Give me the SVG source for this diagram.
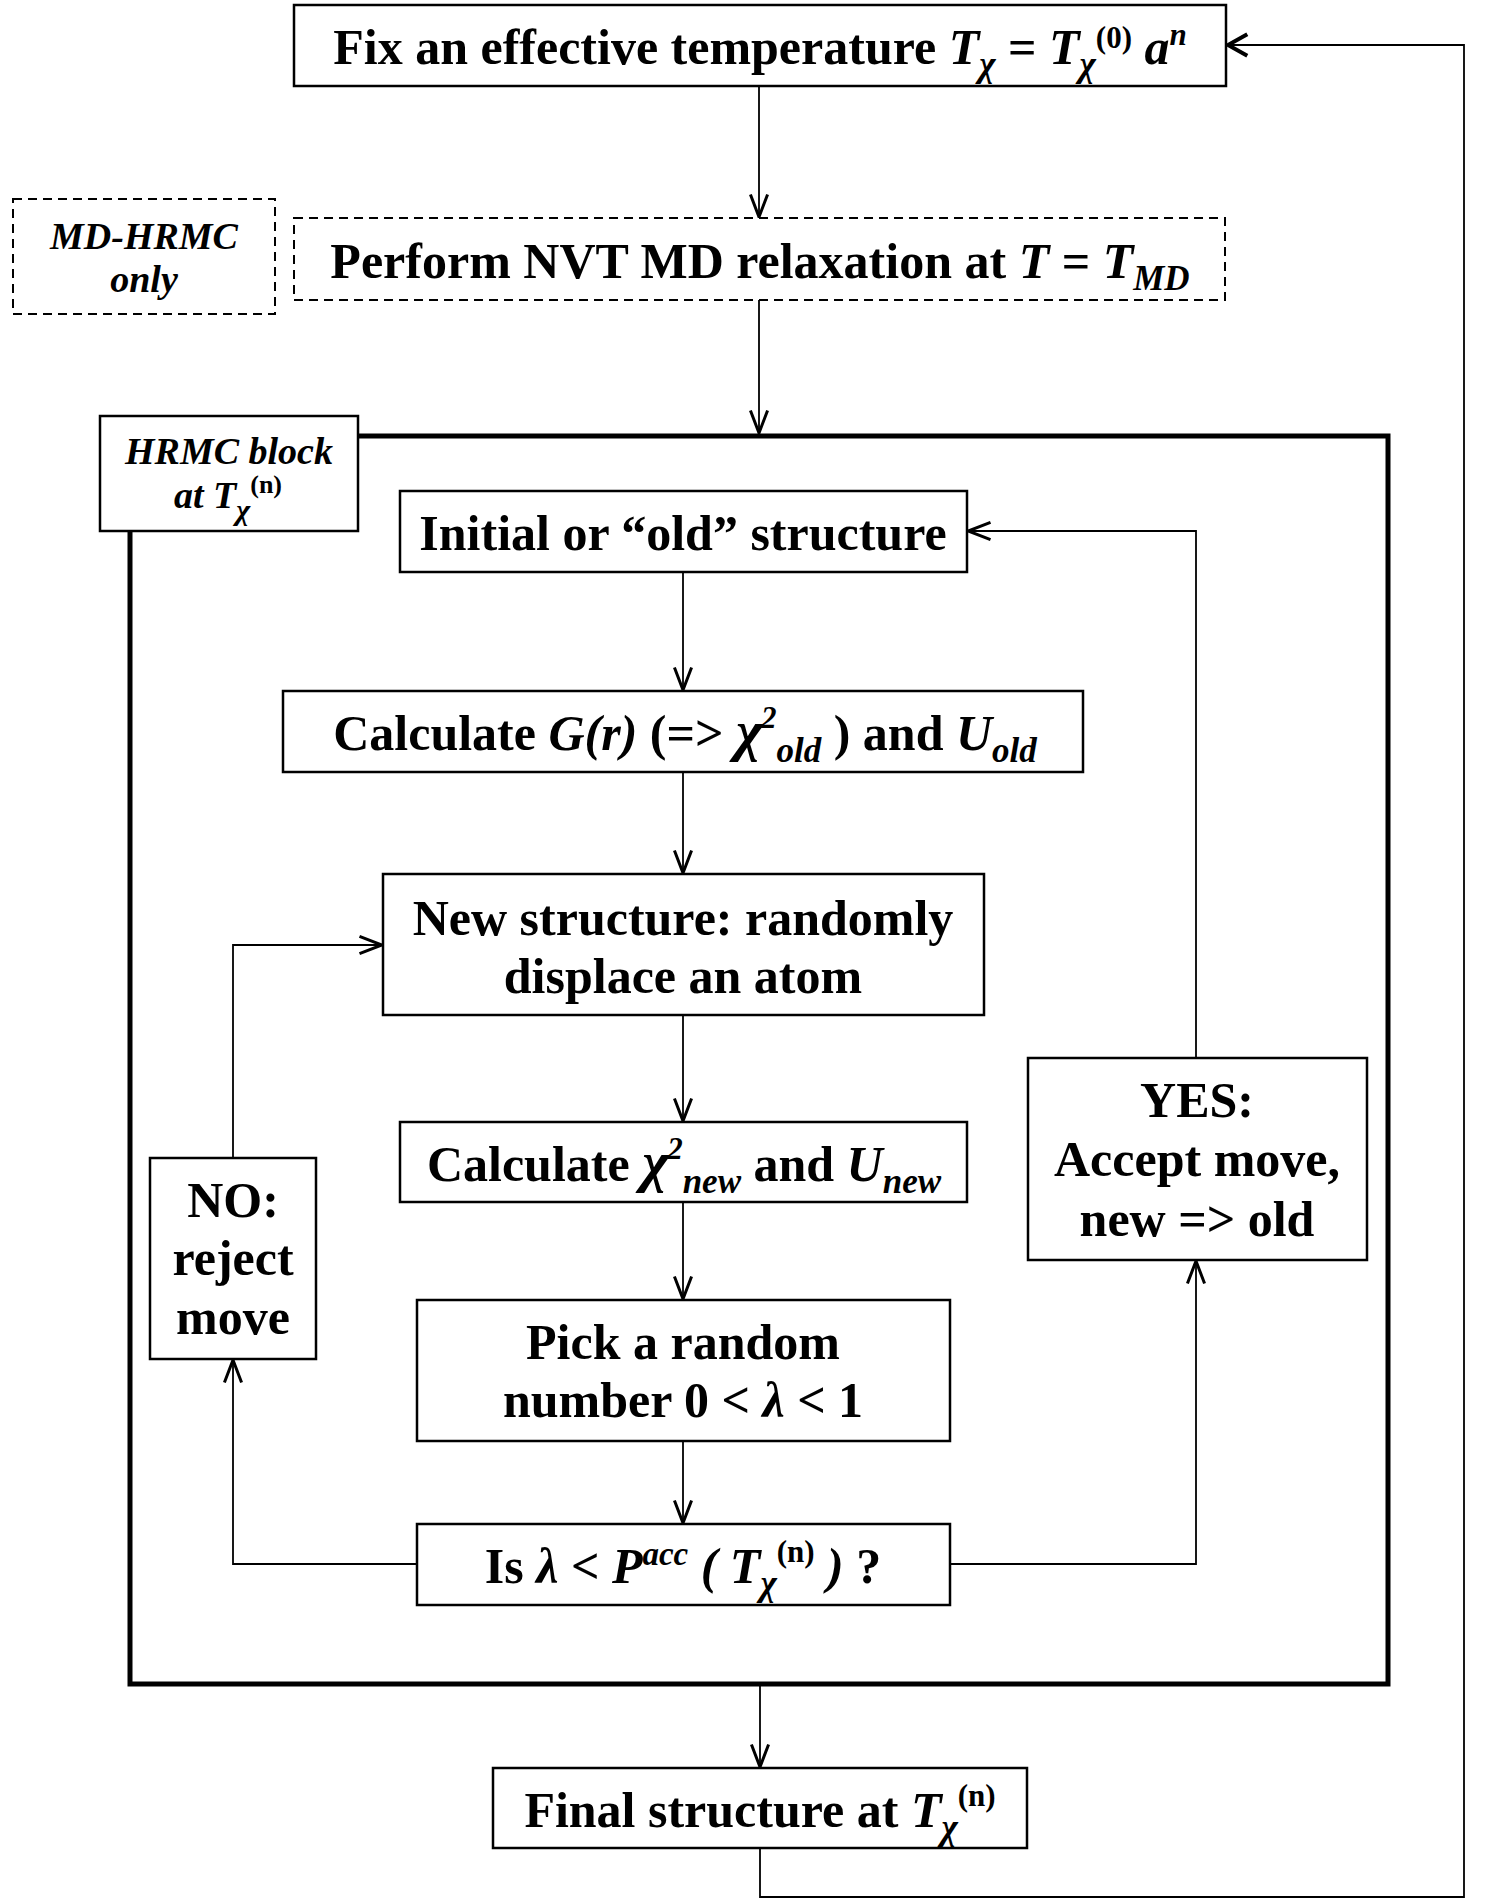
<svg xmlns="http://www.w3.org/2000/svg" width="1500" height="1900" viewBox="0 0 1500 1900">
<style>
.t{font-family:"Liberation Serif","Times New Roman",serif;font-weight:bold;font-size:50px;fill:#000}
.s{font-family:"Liberation Serif","Times New Roman",serif;font-weight:bold;font-style:italic;font-size:38px;fill:#000}
.i{font-style:italic}
.sub{font-size:35px;font-style:italic}
.sup{font-size:31px}
.chi{font-size:58px;font-style:italic}
.box{fill:#fff;stroke:#000;stroke-width:2.5}
.dash{fill:#fff;stroke:#000;stroke-width:2;stroke-dasharray:9 6}
.blk{fill:none;stroke:#000;stroke-width:5}
.c{fill:none;stroke:#000;stroke-width:1.8}
</style>
<defs>
<marker id="ah" markerUnits="userSpaceOnUse" markerWidth="30" markerHeight="30" viewBox="-24 -12 28 24" refX="0" refY="0" orient="auto">
<path d="M-21,-8 L0,0 L-21,8" fill="none" stroke="#000" stroke-width="2.8"/>
</marker>
<marker id="ahb" markerUnits="userSpaceOnUse" markerWidth="30" markerHeight="30" viewBox="-24 -14 28 28" refX="0" refY="0" orient="auto">
<path d="M-18,-10 L0,0 L-18,10" fill="none" stroke="#000" stroke-width="3.8"/>
</marker>
</defs>

<g id="hrmc-block">
<rect class="blk" x="130" y="436" width="1258" height="1248"/>
</g>

<g id="connectors">
<path class="c" d="M759,86 V217" marker-end="url(#ah)"/>
<path class="c" d="M759,300 V433" marker-end="url(#ah)"/>
<path class="c" d="M683,572 V690" marker-end="url(#ah)"/>
<path class="c" d="M683,772 V873" marker-end="url(#ah)"/>
<path class="c" d="M683,1015 V1121" marker-end="url(#ah)"/>
<path class="c" d="M683,1202 V1299" marker-end="url(#ah)"/>
<path class="c" d="M683,1441 V1523" marker-end="url(#ah)"/>
<path class="c" d="M417,1564 H233 V1360" marker-end="url(#ah)"/>
<path class="c" d="M950,1564 H1196 V1261" marker-end="url(#ah)"/>
<path class="c" d="M233,1158 V945 H382" marker-end="url(#ah)"/>
<path class="c" d="M1196,1058 V531 H968" marker-end="url(#ah)"/>
<path class="c" d="M760,1686 V1767" marker-end="url(#ah)"/>
<path class="c" d="M760,1848 V1897 H1464 V45 H1228" marker-end="url(#ahb)"/>
</g>

<g id="fix-temp">
<rect class="box" x="294" y="5" width="932" height="81"/>
<text class="t" x="760" y="64" text-anchor="middle">Fix an effective temperature <tspan class="i">T</tspan><tspan class="sub" dy="12">χ</tspan><tspan dy="-12"> = </tspan><tspan class="i">T</tspan><tspan class="sub" dy="12">χ</tspan><tspan class="sup" dy="-28">(0)</tspan><tspan dy="16"> </tspan><tspan class="i">a</tspan><tspan class="sup i" dy="-19">n</tspan></text>
</g>

<g id="md-only">
<rect class="dash" x="13" y="199" width="262" height="115"/>
<text class="s" x="144" y="249" text-anchor="middle">MD-HRMC</text>
<text class="s" x="144" y="292" text-anchor="middle">only</text>
</g>

<g id="nvt-md">
<rect class="dash" x="294" y="218" width="931" height="82"/>
<text class="t" x="760" y="278" text-anchor="middle">Perform NVT MD relaxation at <tspan class="i">T</tspan> = <tspan class="i">T</tspan><tspan class="sub" dy="12">MD</tspan></text>
</g>

<g id="hrmc-label">
<rect class="box" x="100" y="416" width="258" height="115"/>
<text class="s" x="229" y="464" text-anchor="middle">HRMC block</text>
<text class="s" x="228" y="508" text-anchor="middle">at T<tspan font-size="30" dy="12">χ</tspan><tspan font-size="26" font-style="normal" dy="-27">(n)</tspan></text>
</g>

<g id="initial">
<rect class="box" x="400" y="491" width="567" height="81"/>
<text class="t" x="683" y="550" text-anchor="middle">Initial or “old” structure</text>
</g>

<g id="calc-old">
<rect class="box" x="283" y="691" width="800" height="81"/>
<text class="t" x="685" y="750" text-anchor="middle">Calculate <tspan class="i">G(r)</tspan> (=&gt; <tspan class="chi">χ</tspan><tspan class="sup i" font-size="28" dx="-2" dy="-22">2</tspan><tspan class="sub" dy="34">old</tspan><tspan dy="-12"> ) and </tspan><tspan class="i">U</tspan><tspan class="sub" dy="12">old</tspan></text>
</g>

<g id="new-structure">
<rect class="box" x="383" y="874" width="601" height="141"/>
<text class="t" x="683" y="935" text-anchor="middle">New structure: randomly</text>
<text class="t" x="683" y="993" text-anchor="middle">displace an atom</text>
</g>

<g id="calc-new">
<rect class="box" x="400" y="1122" width="567" height="80"/>
<text class="t" x="684" y="1181" text-anchor="middle">Calculate <tspan class="chi">χ</tspan><tspan class="sup i" font-size="28" dx="-2" dy="-22">2</tspan><tspan class="sub" dy="34">new</tspan><tspan dy="-12"> and </tspan><tspan class="i">U</tspan><tspan class="sub" dy="12">new</tspan></text>
</g>

<g id="pick-random">
<rect class="box" x="417" y="1300" width="533" height="141"/>
<text class="t" x="683" y="1359" text-anchor="middle">Pick a random</text>
<text class="t" x="683" y="1417" text-anchor="middle">number 0 &lt; <tspan class="i">λ</tspan> &lt; 1</text>
</g>

<g id="is-lambda">
<rect class="box" x="417" y="1524" width="533" height="81"/>
<text class="t" x="683" y="1583" text-anchor="middle">Is <tspan class="i">λ</tspan> &lt; <tspan class="i">P</tspan><tspan class="i" font-size="33" dy="-18">acc</tspan><tspan class="i" dy="18"> ( T</tspan><tspan class="sub" dy="12">χ</tspan><tspan class="sup" dy="-33">(n)</tspan><tspan class="i" dy="21"> )</tspan> ?</text>
</g>

<g id="no-reject">
<rect class="box" x="150" y="1158" width="166" height="201"/>
<text class="t" x="233" y="1217" text-anchor="middle">NO:</text>
<text class="t" x="233" y="1275" text-anchor="middle">reject</text>
<text class="t" x="233" y="1334" text-anchor="middle">move</text>
</g>

<g id="yes-accept">
<rect class="box" x="1028" y="1058" width="339" height="202"/>
<text class="t" x="1197" y="1117" text-anchor="middle">YES:</text>
<text class="t" x="1197" y="1176" text-anchor="middle">Accept move,</text>
<text class="t" x="1197" y="1236" text-anchor="middle">new =&gt; old</text>
</g>

<g id="final">
<rect class="box" x="493" y="1768" width="534" height="80"/>
<text class="t" x="760" y="1827" text-anchor="middle">Final structure at <tspan class="i">T</tspan><tspan class="sub" dy="12">χ</tspan><tspan class="sup" dy="-33">(n)</tspan></text>
</g>
</svg>
